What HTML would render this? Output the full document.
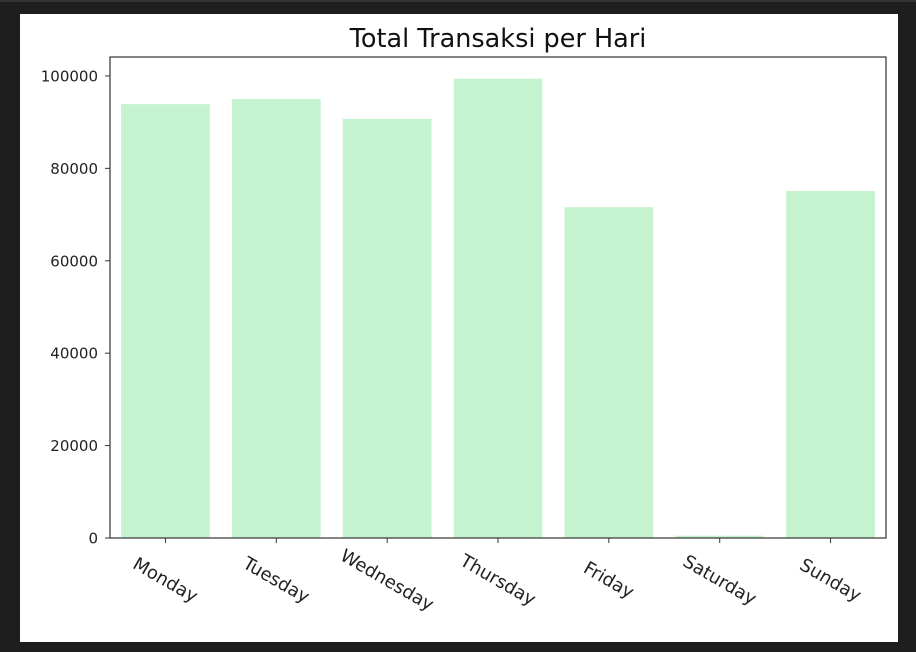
<!DOCTYPE html>
<html><head><meta charset="utf-8">
<style>
body{margin:0;background:#1e1e1e;width:916px;height:652px;overflow:hidden}
svg{display:block;font-family:"DejaVu Sans","Liberation Sans",sans-serif}
</style></head><body>
<svg width="916" height="652">
<rect x="0" y="0" width="916" height="652" fill="#1e1e1e"/>
<rect x="0" y="0" width="916" height="2" fill="#333"/>
<rect x="20" y="14" width="878" height="628" fill="#ffffff"/>
<text x="498" y="47" font-size="25.5" text-anchor="middle" fill="#111">Total Transaksi per Hari</text>
<g id="plot"></g>
</svg>
<script>
const categories=["Monday","Tuesday","Wednesday","Thursday","Friday","Saturday","Sunday"];
const values=[93900,95000,90700,99400,71600,500,75100];
const yTicks=[0,20000,40000,60000,80000,100000];
const L=110,R=886,T=57,B=538,YMAX=104100;
const y=v=>B-(v/YMAX)*(B-T);
const band=(R-L)/categories.length;
const x=i=>L+band*(i+0.5);
const NS="http://www.w3.org/2000/svg";
const g=document.getElementById('plot');
function mk(t,a){const e=document.createElementNS(NS,t);for(const k in a)e.setAttribute(k,a[k]);g.appendChild(e);return e;}
values.forEach((v,i)=>{
 const r=mk('rect',{x:x(i)-band*0.4,y:y(v),width:band*0.8,height:B-y(v),fill:'#c6f3cf'});
 
 
});
yTicks.forEach(t=>{
 const l=mk('line',{x1:L-5,x2:L,y1:y(t),y2:y(t),stroke:'#333','stroke-width':1});
 
 
 const tx=mk('text',{x:L-12,y:y(t)+5.5,'font-size':15,'text-anchor':'end',fill:'#222'});
 tx.textContent=t;
 
 
});
categories.forEach((c,i)=>{
 const l=mk('line',{x1:x(i),x2:x(i),y1:B,y2:B+5,stroke:'#333','stroke-width':1});
 
 
 const cx=x(i),cy=B+48;
 const tx=mk('text',{x:cx,y:cy,'font-size':18,'text-anchor':'middle',fill:'#222',transform:`rotate(30 ${cx} ${cy-6})`});
 tx.textContent=c;
 
 
});
const f=mk('rect',{x:L,y:T,width:R-L,height:B-T,fill:'none',stroke:'#333','stroke-width':1.2});


</script>
</body></html>
